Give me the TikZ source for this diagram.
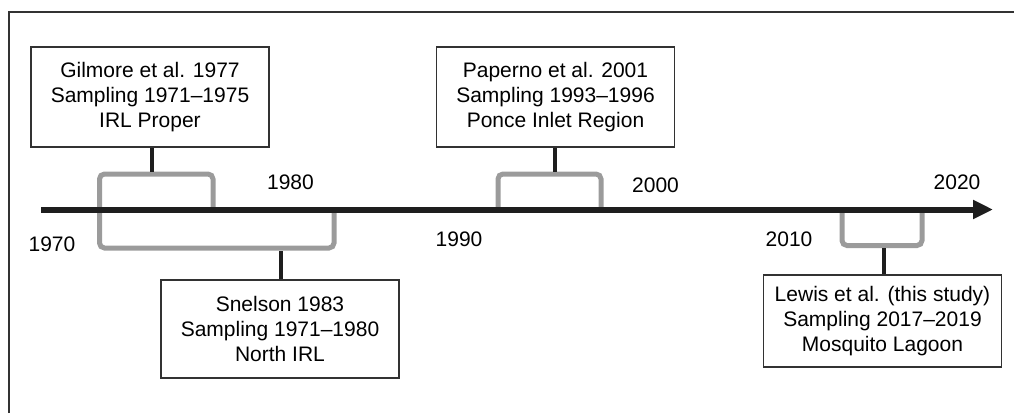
\documentclass[tikz,border=0pt]{standalone}
\usepackage{fontspec}
\setmainfont{Liberation Sans}
\usetikzlibrary{arrows.meta}
\definecolor{brk}{RGB}{155,155,155}
\definecolor{ink}{RGB}{30,30,30}
\definecolor{frm}{RGB}{50,50,50}
\begin{document}
\begin{tikzpicture}[x=1pt,y=-1pt,
  infobox/.style={draw=frm,line width=1.5pt,fill=white,inner sep=0pt,
    minimum width=238pt,align=center,font=\fontsize{21}{25}\selectfont},
  yearlbl/.style={inner sep=0pt,font=\fontsize{21}{25}\selectfont},
  bracket/.style={draw=brk,line width=5pt,rounded corners=5pt},
  stem/.style={draw=ink,line width=4pt},
  axisline/.style={draw=ink,line width=6pt,-{Triangle[length=20pt 0,width=18pt 0]}}]
\useasboundingbox (0,0) rectangle (1014,413);
% frame (top and left edges visible)
\draw[frm,line width=1.2pt] (9,413) -- (9,12) -- (1014,12);
% axis
\coordinate (axL) at (41,209.5);
\coordinate (axR) at (993,209.5);
% brackets
\draw[bracket] (99.5,207) -- (99.5,174) -- (213,174) -- (213,207);
\draw[bracket] (99.5,207) -- (99.5,248) -- (334,248) -- (334,212);
\draw[bracket] (498,207) -- (498,174) -- (601,174) -- (601,207);
\draw[bracket] (842,212) -- (842,245.5) -- (922,245.5) -- (922,212);
\draw[axisline] (axL) -- (axR);
% bracket attach points
\coordinate (bG) at (151.5,171.5);
\coordinate (bS) at (280.5,250.5);
\coordinate (bP) at (555,171.5);
\coordinate (bL) at (883.5,248);
% boxes
\node[infobox,minimum height=100pt] (gil) at (150,97)
  {Gilmore et al. 1977\\Sampling 1971–1975\\IRL Proper};
\node[infobox,minimum height=98pt] (sne) at (280,329)
  {Snelson 1983\\Sampling 1971–1980\\North IRL};
\node[infobox,minimum height=100pt] (pap) at (555.5,97)
  {Paperno et al. 2001\\Sampling 1993–1996\\Ponce Inlet Region};
\node[infobox,minimum height=92pt] (lew) at (882.5,321)
  {Lewis et al. (this study)\\Sampling 2017–2019\\Mosquito Lagoon};
% stems
\draw[stem] (gil.south -| bG) -- (bG);
\draw[stem] (sne.north -| bS) -- (bS);
\draw[stem] (pap.south -| bP) -- (bP);
\draw[stem] (lew.north -| bL) -- (bL);
% year labels
\node[yearlbl] (y1970) at (52,244.5) {1970};
\node[yearlbl] (y1980) at (290.5,182.5) {1980};
\node[yearlbl] (y1990) at (459,239.5) {1990};
\node[yearlbl] (y2000) at (655.5,185) {2000};
\node[yearlbl] (y2010) at (789,239.5) {2010};
\node[yearlbl] (y2020) at (957,182.5) {2020};
\end{tikzpicture}
\end{document}
